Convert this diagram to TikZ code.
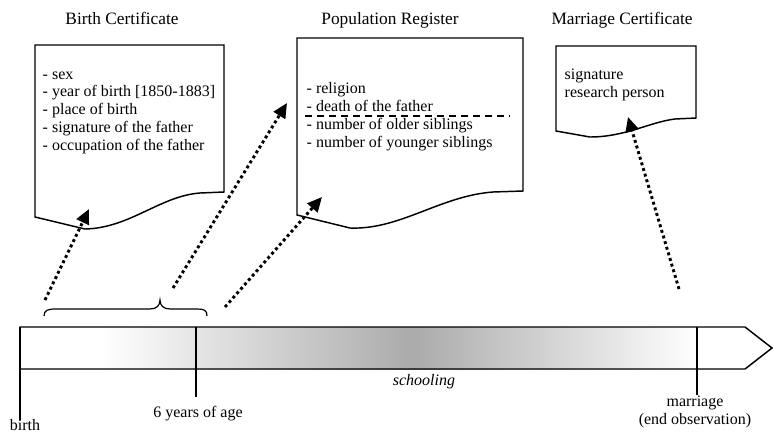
\documentclass[tikz,border=0pt]{standalone}
\usepackage{fontspec}
\setmainfont{Liberation Serif}
\usetikzlibrary{arrows.meta}
\pgfdeclarehorizontalshading{school}{100bp}{color(0bp)=(white); color(31bp)=(white); color(54bp)=(black!33); color(75bp)=(white); color(100bp)=(white)}

\begin{document}
\begin{tikzpicture}[x=0.75pt,y=-0.75pt,line width=1.1pt]
\tikzstyle{every node}=[inner sep=0pt, font=\fontsize{12}{13.4}\selectfont]
\tikzstyle{doc}=[draw, fill=white]
\tikzstyle{title}=[anchor=base, font=\fontsize{13}{15}\selectfont]
\tikzstyle{items}=[anchor=base west, align=left]
\tikzstyle{link}=[line width=2.2pt, dash pattern=on 2.2pt off 2.2pt, -{Triangle[length=11pt,width=10pt]}]
\useasboundingbox (0,0) rectangle (773,436);
% documents
\draw[doc] (35,45) -- (224,45) -- (224,192) -- (200,193) .. controls (160,196) and (130,228) .. (85,229) -- (35,217) -- cycle;
\draw[doc] (297,38) -- (523,38) -- (523,191) -- (493,192) .. controls (440,196) and (400,230) .. (350,228) -- (297,215) -- cycle;
\draw[doc] (556,46) -- (696,46) -- (696,118) -- (675,119) .. controls (650,122) and (625,137) .. (590,137) -- (556,131) -- cycle;
\node (tbirth) [title] at (122,24) {Birth Certificate};
\node (tpop) [title] at (390,24) {Population Register};
\node (tmarr) [title] at (622,24) {Marriage Certificate};
% base of a multi-line node = its last line
\node (ibirth) [items] at (42,150.5) {- sex\\- year of birth [1850-1883]\\- place of birth\\- signature of the father\\- occupation of the father};
\node (ipop) [items] at (306,147) {- religion\\- death of the father\\- number of older siblings\\- number of younger siblings};
\node (imarr) [items] at (564,97) {signature\\research person};
\draw[dash pattern=on 5pt off 4pt] (305,116) -- (510,116);
% time line
\shade[shading=school] (20,327) rectangle (697,369);
\draw (20,327) -- (745,327) -- (772,348) -- (745,369) -- (20,369) -- cycle;
\draw (20,327) -- (20,420);
\draw (196,327) -- (196,397);
\draw (697,327) -- (697,395);
\node (lbirth) [anchor=base] at (25,430) {birth};
\node (lsix) [anchor=base] at (198,417) {6 years of age};
\node (lschool) [anchor=base] at (424,385) {\itshape schooling};
\node (lmarr) [anchor=base, align=center] at (695,424) {marriage\\(end observation)};
\draw[line width=0.9pt] (44,316) .. controls (44,310) and (48,309) .. (56,309) -- (150,309) .. controls (157,309) and (160,305) .. (160,300) .. controls (160,305) and (163,309) .. (170,309) -- (197,309) .. controls (204,309) and (207,310) .. (207,316);
% links
\coordinate (s1) at (45,300); \coordinate (e1) at (89,209);
\coordinate (s2) at (173,288); \coordinate (e2) at (287,103);
\coordinate (s3) at (225,307); \coordinate (e3) at (322,197);
\coordinate (s4) at (679,289); \coordinate (e4) at (628,117);
\draw[link] (s1) -- (e1);
\draw[link] (s2) -- (e2);
\draw[link] (s3) -- (e3);
\draw[link] (s4) -- (e4);
\end{tikzpicture}
\end{document}
